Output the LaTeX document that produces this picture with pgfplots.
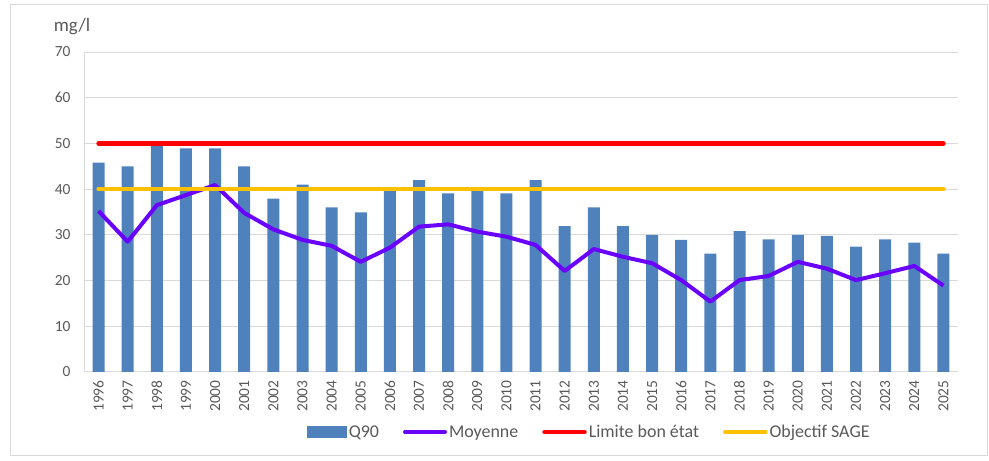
\documentclass[border=0pt]{standalone}
\usepackage{fontspec}
\setmainfont{Carlito}
\usepackage{pgfplots}
\pgfplotsset{compat=1.18}
\definecolor{barblue}{RGB}{79,129,189}
\definecolor{moypurple}{RGB}{106,0,255}
\definecolor{limred}{RGB}{255,0,0}
\definecolor{objyellow}{RGB}{255,192,0}
\definecolor{txtgray}{RGB}{89,89,89}
\definecolor{gridgray}{RGB}{217,217,217}
\begin{document}
\begin{tikzpicture}
\useasboundingbox (0bp,0bp) rectangle (989bp,461bp);
\draw[gray!30, line width=1.2bp] (10.5bp,5.5bp) rectangle (987.5bp,456.5bp);
\begin{axis}[
  at={(84bp,89bp)}, anchor=south west,
  scale only axis, width=874bp, height=320bp,
  xmin=1995.5, xmax=2025.5, ymin=0, ymax=70,
  xtick={1996,...,2025}, ytick={0,10,...,70},
  axis x line=bottom, axis y line=left,
  axis line style={gridgray, line width=1bp, -},
  major tick length=0pt,
  ymajorgrids, grid style={gridgray, line width=1bp},
  /pgf/number format/assume math mode=true,
  /pgf/number format/1000 sep={},
  ticklabel style={font=\fontsize{15.5}{17}\selectfont, text=txtgray},
  xticklabel style={rotate=90, anchor=east},
  xticklabel shift={5bp},
  yticklabel shift={10bp},
  ylabel={mg/l},
  ylabel style={rotate=-90, at={(rel axis cs:-0.0137,1.078)}, anchor=center, font=\fontsize{19}{21}\selectfont, text=txtgray},
  legend columns=4,
  legend style={at={(0.578,-0.1875)}, anchor=center, draw=none, fill=none,
    font=\fontsize{18}{20}\selectfont, text=txtgray,
    /tikz/every even column/.append style={column sep=22bp}},
  legend cell align=left,
]
\addplot[ybar, bar width=12bp, fill=barblue, draw=none,
  legend image code/.code={\fill[barblue] (0bp,-6bp) rectangle (40bp,6bp);}]
  coordinates {
  (1996,45.8) (1997,45) (1998,49.5) (1999,48.9) (2000,48.9) (2001,45)
  (2002,37.9) (2003,41) (2004,36) (2005,34.9) (2006,39.6) (2007,42)
  (2008,39.1) (2009,39.6) (2010,39.1) (2011,42) (2012,31.9) (2013,36)
  (2014,31.9) (2015,30) (2016,28.9) (2017,25.9) (2018,30.8) (2019,29)
  (2020,30) (2021,29.8) (2022,27.4) (2023,29) (2024,28.3) (2025,25.9)};
\addlegendentry{Q90}
\addplot[moypurple, line width=4bp, line join=round,
  legend image code/.code={\draw[moypurple, line width=4bp, line cap=round] (0bp,0bp) -- (40bp,0bp);}]
  coordinates {
  (1996,35.2) (1997,28.5) (1998,36.5) (1999,38.7) (2000,40.9) (2001,34.8)
  (2002,31.2) (2003,28.9) (2004,27.6) (2005,24.1) (2006,27.2) (2007,31.8)
  (2008,32.3) (2009,30.7) (2010,29.6) (2011,27.8) (2012,22.1) (2013,26.9)
  (2014,25.2) (2015,23.8) (2016,20.1) (2017,15.4) (2018,20.1) (2019,21)
  (2020,24.1) (2021,22.6) (2022,20.1) (2023,21.6) (2024,23.2) (2025,18.9)};
\addlegendentry{Moyenne}
\addplot[limred, line width=4.5bp, line cap=round,
  legend image code/.code={\draw[limred, line width=4.5bp, line cap=round] (0bp,0bp) -- (40bp,0bp);}]
  coordinates {(1996,50) (2025,50)};
\addlegendentry{Limite bon état}
\addplot[objyellow, line width=4.5bp, line cap=round,
  legend image code/.code={\draw[objyellow, line width=4.5bp, line cap=round] (0bp,0bp) -- (40bp,0bp);}]
  coordinates {(1996,40) (2025,40)};
\addlegendentry{Objectif SAGE}
\end{axis}
\end{tikzpicture}
\end{document}
